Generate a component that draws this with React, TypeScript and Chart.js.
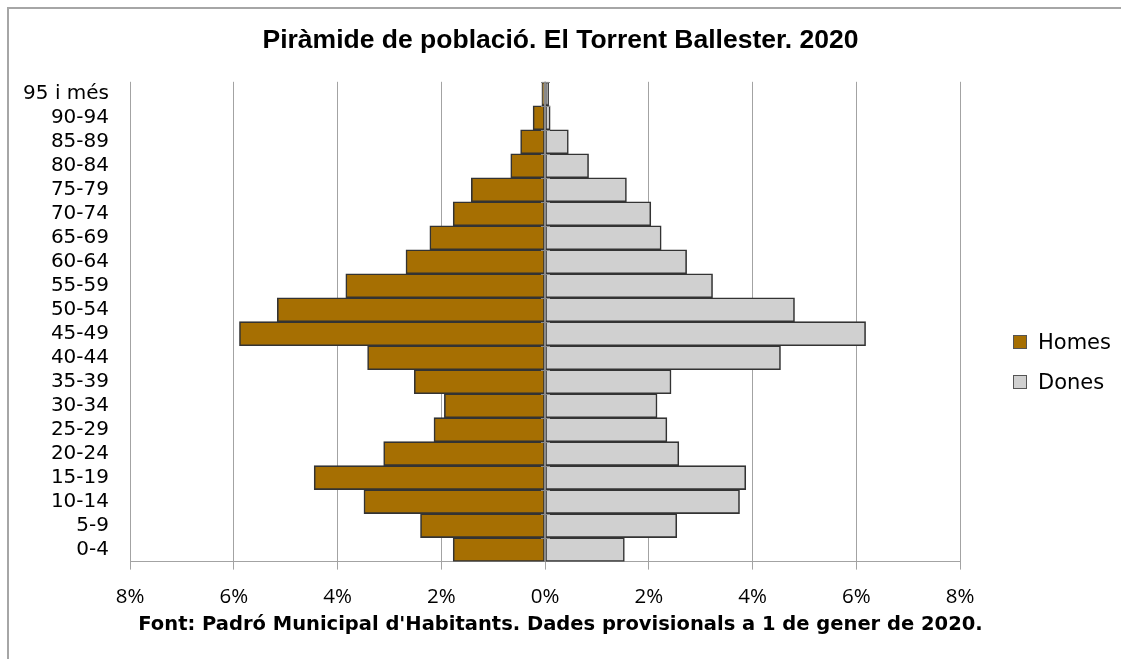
import React, { useEffect, useRef } from 'react';
import { Chart, registerables, layouts } from 'chart.js';

Chart.register(...registerables);

const ageGroups = ['0-4', '5-9', '10-14', '15-19', '20-24', '25-29', '30-34', '35-39', '40-44', '45-49', '50-54', '55-59', '60-64', '65-69', '70-74', '75-79', '80-84', '85-89', '90-94', '95 i més'];
const homes = [1.77, 2.40, 3.49, 4.45, 3.11, 2.14, 1.94, 2.52, 3.42, 5.89, 5.16, 3.84, 2.68, 2.22, 1.77, 1.42, 0.66, 0.47, 0.23, 0.06];
const dones = [1.53, 2.54, 3.75, 3.87, 2.58, 2.35, 2.16, 2.43, 4.54, 6.18, 4.81, 3.23, 2.73, 2.24, 2.04, 1.57, 0.84, 0.45, 0.10, 0.07];
const xTickValues = [-8, -6, -4, -2, 0, 2, 4, 6, 8];
const seriesNames = ['Homes', 'Dones'];
const seriesColors = ['#A66F02', '#D0D0D0'];
const titleText = 'Piràmide de població. El Torrent Ballester. 2020';
const footerText = "Font: Padró Municipal d'Habitants. Dades provisionals a 1 de gener de 2020.";

const zeroAxisPlugin = {
  id: 'zeroAxis',
  afterDatasetsDraw(chart: any) {
    const { ctx, chartArea, scales } = chart;
    const x0 = scales.x.getPixelForValue(0);
    const y = scales.y;
    ctx.save();
    ctx.strokeStyle = '#8a8a8a';
    ctx.lineWidth = 2;
    ctx.beginPath();
    ctx.moveTo(x0, chartArea.top);
    ctx.lineTo(x0, chartArea.bottom);
    ctx.stroke();
    ctx.lineWidth = 1;
    const n = ageGroups.length;
    const step = Math.abs(y.getPixelForValue(1) - y.getPixelForValue(0));
    for (let i = 0; i < n; i++) {
      const c = y.getPixelForValue(i);
      const yy = Math.round(c - step / 2) + 0.5;
      ctx.beginPath();
      ctx.moveTo(x0 - 4, yy);
      ctx.lineTo(x0 + 5, yy);
      ctx.stroke();
    }
    ctx.restore();
  },
};

// reserves the space on the right where the legend sits, without shrinking title/footer
const rightSpacerPlugin = {
  id: 'rightSpacer',
  beforeInit(chart: any) {
    const box: any = {
      position: 'right',
      weight: 1000,
      fullSize: false,
      options: { stackWeight: 1 },
      top: 0,
      left: 0,
      right: 0,
      bottom: 0,
      width: 0,
      height: 0,
      isHorizontal() {
        return false;
      },
      update(maxWidth: number, maxHeight: number) {
        this.width = 161;
        this.height = maxHeight;
        return { left: 0, right: 0, top: 0, bottom: 0 };
      },
      getPadding() {
        return { left: 0, right: 0, top: 0, bottom: 0 };
      },
      draw() {},
    };
    layouts.addBox(chart, box);
  },
};

export default function App() {
  const canvasRef = useRef<HTMLCanvasElement | null>(null);

  useEffect(() => {
    if (!canvasRef.current) return;
    const chart = new Chart(canvasRef.current, {
      type: 'bar',
      data: {
        labels: ageGroups,
        datasets: [
          {
            label: seriesNames[0],
            data: homes.map((v) => -v),
            backgroundColor: seriesColors[0],
            borderColor: '#333333',
            borderWidth: 1.6,
            borderSkipped: false,
            barPercentage: 1,
            categoryPercentage: 1,
          },
          {
            label: seriesNames[1],
            data: dones,
            backgroundColor: seriesColors[1],
            borderColor: '#333333',
            borderWidth: 1.6,
            borderSkipped: false,
            barPercentage: 1,
            categoryPercentage: 1,
          },
        ],
      },
      options: {
        indexAxis: 'y',
        responsive: false,
        animation: false,
        devicePixelRatio: 1,
        layout: { padding: 0 },
        plugins: {
          legend: { display: false },
          tooltip: { enabled: false },
          title: {
            display: true,
            text: titleText,
            color: '#000',
            font: { family: 'Liberation Sans', size: 26.5, weight: 'bold' },
            padding: { top: 25, bottom: 25 },
          },
          subtitle: {
            display: true,
            position: 'bottom',
            text: footerText,
            color: '#000',
            font: { family: 'DejaVu Sans', size: 19.5, weight: 'bold' },
            padding: { top: 7, bottom: 22 },
          },
        },
        scales: {
          x: {
            stacked: true,
            min: xTickValues[0],
            max: xTickValues[xTickValues.length - 1],
            afterBuildTicks: (scale: any) => {
              scale.ticks = xTickValues.map((v) => ({ value: v }));
            },
            afterFit: (scale: any) => {
              scale.height = 45;
            },
            grid: {
              color: '#a3a3a3',
              lineWidth: 1,
              drawTicks: true,
              tickLength: 8,
            },
            border: { display: true, color: '#a3a3a3', width: 1 },
            ticks: {
              padding: 15,
              color: '#000',
              font: { family: 'Open Sans', size: 20.5 },
              callback: (v: any) => Math.abs(Number(v)) + '%',
            },
          },
          y: {
            stacked: true,
            reverse: true,
            afterFit: (scale: any) => {
              scale.width = 130;
            },
            grid: { display: false, drawTicks: false },
            border: { display: false },
            ticks: {
              padding: 21,
              color: '#000',
              font: { family: 'DejaVu Sans', size: 20 },
              autoSkip: false,
            },
          },
        },
      },
      plugins: [rightSpacerPlugin, zeroAxisPlugin],
    } as any);
    return () => chart.destroy();
  }, []);

  const legendRow = (i: number, centerY: number) => (
    <div
      key={seriesNames[i]}
      style={{
        position: 'absolute',
        left: 1013,
        top: centerY - 12,
        height: 24,
        display: 'flex',
        alignItems: 'center',
        fontFamily: 'DejaVu Sans',
        fontSize: 21,
        color: '#000',
        whiteSpace: 'nowrap',
      }}
    >
      <span
        style={{
          display: 'inline-block',
          width: 12,
          height: 12,
          background: seriesColors[i],
          border: '1px solid #555',
          marginRight: 11,
        }}
      />
      <span>{seriesNames[i]}</span>
    </div>
  );

  return (
    <div
      style={{
        position: 'fixed',
        left: 0,
        top: 0,
        width: 1121,
        height: 659,
        overflow: 'hidden',
        background: '#fff',
      }}
    >
      <div
        style={{
          position: 'absolute',
          left: 7,
          top: 7,
          width: 1300,
          height: 800,
          borderLeft: '2px solid #a6a6a6',
          borderTop: '2px solid #a6a6a6',
        }}
      />
      <canvas
        ref={canvasRef}
        width={1121}
        height={659}
        style={{ position: 'absolute', left: 0, top: 0, width: 1121, height: 659 }}
      />
      {legendRow(0, 342)}
      {legendRow(1, 382)}
    </div>
  );
}
